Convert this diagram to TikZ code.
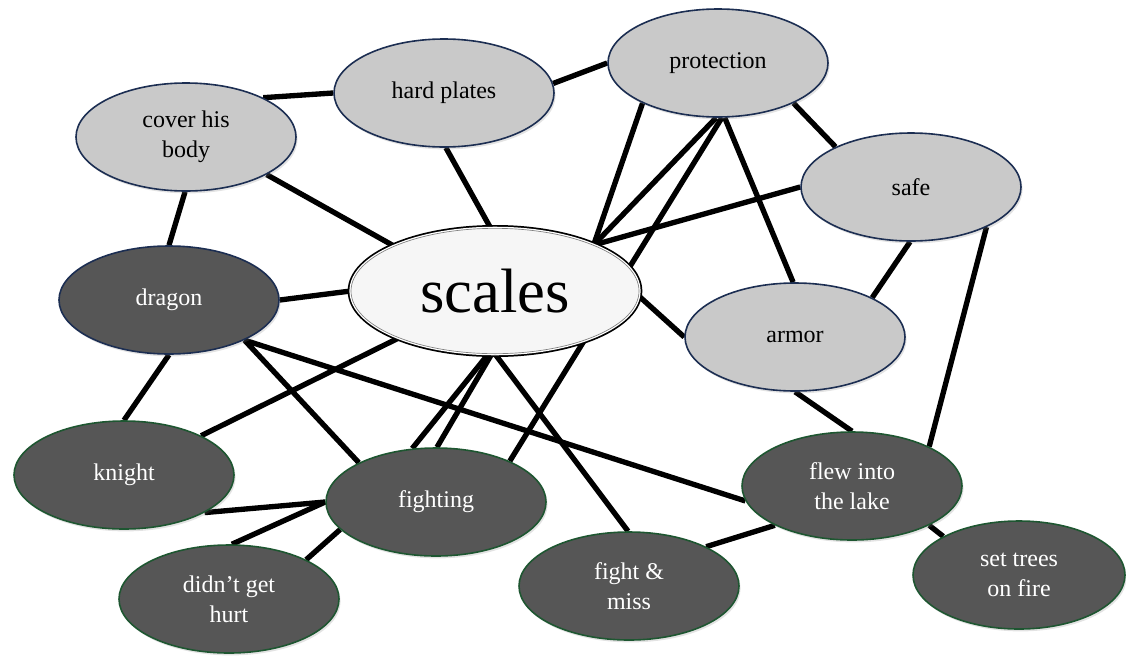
\documentclass[tikz,border=0pt]{standalone}
\usepackage{fontspec}
\setmainfont{Liberation Serif}
\usetikzlibrary{shapes.geometric,shadows,backgrounds}
\definecolor{lightfill}{HTML}{C9C9C9}
\definecolor{darkfill}{HTML}{565656}
\definecolor{navyline}{HTML}{1C2E52}
\definecolor{greenline}{HTML}{1E5631}
\definecolor{scalesfill}{HTML}{F6F6F6}
\tikzset{
  bubble/.style={ellipse, inner sep=0pt, align=center,
    minimum width=165pt, minimum height=81pt, line width=1.2pt,
    drop shadow={opacity=0.22, shadow xshift=1.2pt, shadow yshift=-1.8pt},
    font=\fontsize{18}{22.5}\selectfont},
  lightnode/.style={bubble, fill=lightfill, draw=navyline, text=black},
  darknode/.style={bubble, fill=darkfill, draw=greenline, text=white},
  dragonnode/.style={bubble, fill=darkfill, draw=navyline, text=white},
  centernode/.style={ellipse, inner sep=0pt, minimum width=216pt, minimum height=94pt,
    drop shadow={opacity=0.25, shadow xshift=1.2pt, shadow yshift=-1.8pt},
    preaction={draw=black, line width=5pt},
    preaction={draw=white, line width=2.4pt},
    fill=scalesfill, draw=gray, line width=0.5pt,
    font=\fontsize{47}{50}\selectfont},
  link/.style={line width=4pt, black}
}
\begin{document}
\begin{tikzpicture}[x=0.75pt, y=-0.75pt]
\useasboundingbox (0,0) rectangle (1126,657);
\node[lightnode] (cover) at (186,137) {cover his\\body};
\node[lightnode] (hard) at (444,93) {hard plates};
\node[lightnode] (prot) at (718,63) {protection};
\node[lightnode] (safe) at (911,187) {safe};
\node[dragonnode] (dragon) at (169,300) {dragon};
\node[centernode] (scales) at (495,291) {scales};
\node[lightnode] (armor) at (795,337) {armor};
\node[darknode] (knight) at (124,475) {knight};
\node[darknode] (hurt) at (229,599) {didn’t get\\hurt};
\node[darknode] (fighting) at (436,502) {fighting};
\node[darknode] (fam) at (629,586) {fight \&\\miss};
\node[darknode] (flew) at (852,486) {flew into\\the lake};
\node[darknode, minimum width=159pt] (trees) at (1019,575) {set trees\\on fire};
\begin{scope}[on background layer]
\draw[link] (cover.27) -- (hard.180);
\draw[link] (hard.5) -- (prot.180);
\draw[link] (prot.-28) -- (safe.152);
\draw[link] (cover.-25) -- (scales.156);
\draw[link] (cover.-91) -- (dragon.90);
\draw[link] (hard.-88) -- (scales.94);
\draw[link] (scales.25) -- (prot.208);
\draw[link] (scales.25) -- (prot.-92);
\draw[link] (scales.25) -- (safe.180);
\draw[link] (prot.-86) -- (fighting.29);
\draw[link] (prot.-83) -- (armor.92);
\draw[link] (dragon.0) -- (scales.180);
\draw[link] (scales.-2) -- (armor.180);
\draw[link] (safe.-91) -- (armor.27);
\draw[link] (safe.-28) -- (flew.27);
\draw[link] (armor.-90) -- (flew.90);
\draw[link] (dragon.-90) -- (knight.90);
\draw[link] (dragon.-28) -- (fighting.153);
\draw[link] (dragon.-28) -- (flew.188);
\draw[link] (scales.206) -- (knight.27);
\draw[link] (scales.-96) -- (fighting.114);
\draw[link] (scales.-93) -- (fighting.89);
\draw[link] (scales.-90) -- (fam.91);
\draw[link] (knight.-25) -- (fighting.180);
\draw[link] (fighting.180) -- (hurt.87);
\draw[link] (fighting.196) -- (hurt.27);
\draw[link] (fam.27) -- (flew.207);
\draw[link] (flew.-27) -- (trees.153);
\end{scope}
\end{tikzpicture}
\end{document}
